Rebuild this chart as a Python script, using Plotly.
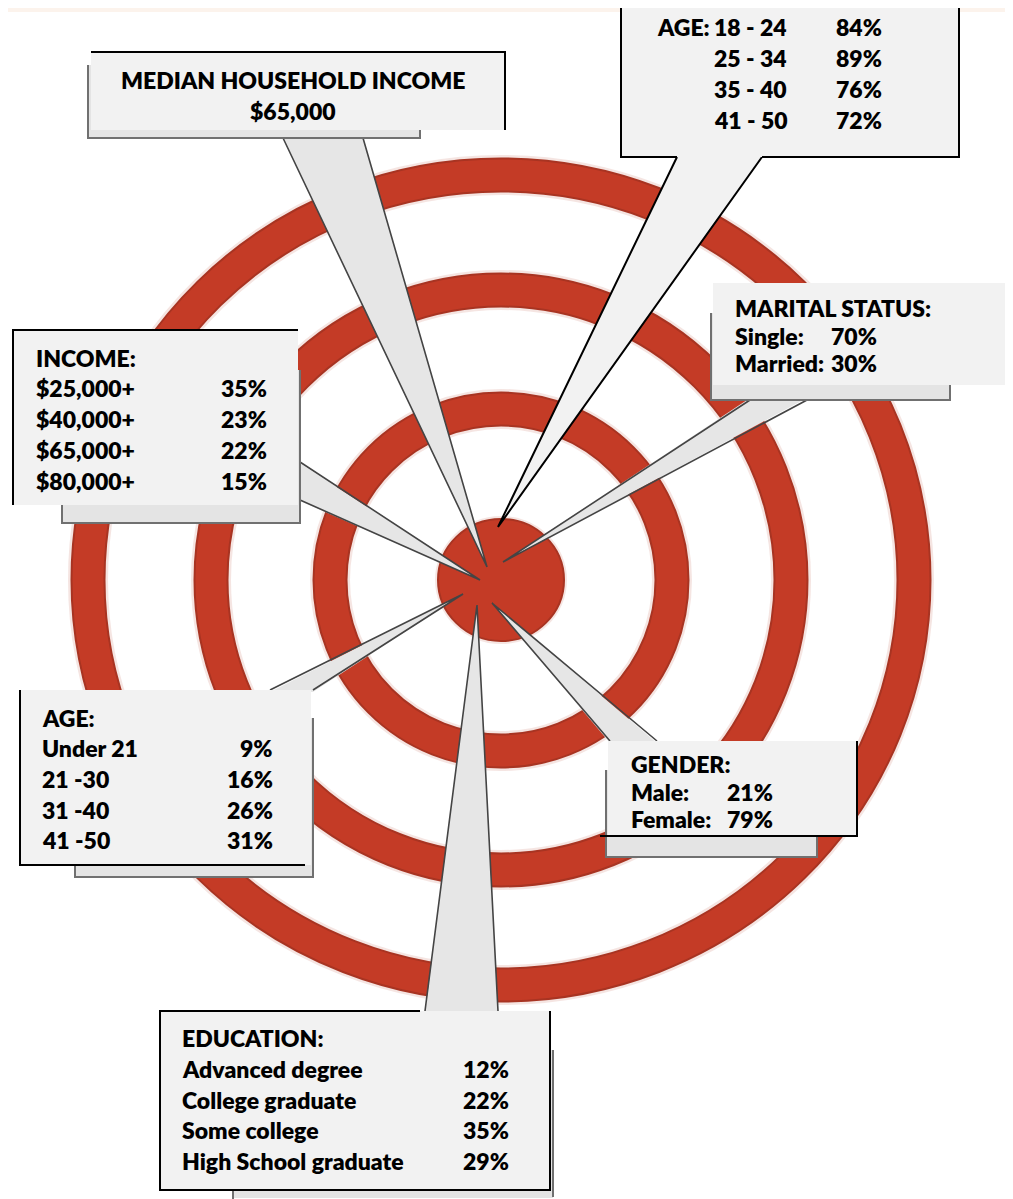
import plotly.graph_objects as go

W, H = 1013, 1199
OFF = 8  # page body margin of the browser: plot starts 8px in

# ---------------- data ----------------
median_income = 65000
age_young_labels = ["18 - 24", "25 - 34", "35 - 40", "41 - 50"]
age_young_values = [84, 89, 76, 72]
marital_labels = ["Single:", "Married:"]
marital_values = [70, 30]
income_labels = ["$25,000+", "$40,000+", "$65,000+", "$80,000+"]
income_values = [35, 23, 22, 15]
age_labels = ["Under 21", "21 -30", "31 -40", "41 -50"]
age_values = [9, 16, 26, 31]
gender_labels = ["Male:", "Female:"]
gender_values = [21, 79]
education_labels = ["Advanced degree", "College graduate", "Some college", "High School graduate"]
education_values = [12, 22, 35, 29]

# ---------------- styles ----------------
RED = "#C43B26"
RED_EDGE = "#A83422"
HALO = "rgba(215,150,140,0.25)"
FRONT = "#F2F2F2"
BACK = "#E4E4E4"
WEDGE = "#E6E6E6"
FONT = "Lato"
FS = 23
WEIGHT = 800

shapes = []


def rect(x0, y0, x1, y1, fill):
    shapes.append(dict(type="rect", x0=x0, y0=y0, x1=x1, y1=y1, fillcolor=fill,
                       line=dict(width=0), layer="above"))


def poly(pts, fill):
    d = "M " + " L ".join(f"{x},{y}" for x, y in pts) + " Z"
    shapes.append(dict(type="path", path=d, fillcolor=fill, line=dict(width=0), layer="above"))


def seg(pts, color="black", width=2):
    d = "M " + " L ".join(f"{x},{y}" for x, y in pts)
    shapes.append(dict(type="path", path=d, line=dict(color=color, width=width), layer="above"))


# faint top strip
rect(0, 0, W, 12, "#FCF3EC")

# target rings
cx, cy = 501, 580
rings = [(413, 405), (290, 290), (171, 171)]
for rx, ry in rings:
    for width, color in [(40, HALO), (35, RED_EDGE), (31, RED)]:
        shapes.append(dict(type="circle", x0=cx - rx, x1=cx + rx, y0=cy - ry, y1=cy + ry,
                           line=dict(color=color, width=width), fillcolor="rgba(0,0,0,0)",
                           layer="below"))
shapes.append(dict(type="circle", x0=cx - 66, x1=cx + 66, y0=cy - 64, y1=cy + 64,
                   line=dict(width=0), fillcolor=HALO, layer="below"))
shapes.append(dict(type="circle", x0=cx - 63, x1=cx + 63, y0=cy - 61, y1=cy + 61,
                   line=dict(color=RED_EDGE, width=2), fillcolor=RED, layer="below"))

EDGE = "#444444"
BEDGE = "#707070"

# ---- median household income ----
poly([(283, 138), (363, 138), (487, 567)], WEDGE)
seg([(283, 138), (487, 567), (363, 138)], EDGE, 1.6)
rect(88, 65, 420, 138, BACK)
seg([(88, 65), (88, 138), (420, 138), (420, 130)], BEDGE, 2)
rect(91, 52, 505, 130, FRONT)
seg([(91, 52), (505, 52), (505, 130)], "black", 2)

# ---- age (top right) ----
poly([(677, 156), (762, 156), (498, 527)], FRONT)
seg([(677, 157), (498, 527), (762, 157)], "black", 2)
rect(621, 5, 959, 157, FRONT)
seg([(621, 5), (621, 157), (677, 157)], "black", 2)
seg([(762, 157), (959, 157), (959, 5)], "black", 2)

# ---- marital status ----
poly([(750, 398), (807, 398), (503, 562)], WEDGE)
seg([(750, 400), (503, 562), (807, 400)], EDGE, 1.6)
rect(711, 313, 950, 400, BACK)
seg([(711, 313), (711, 400), (950, 400), (950, 385)], BEDGE, 2)
rect(713, 283, 1006, 385, FRONT)

# ---- income ----
poly([(298, 462), (298, 500), (480, 580)], WEDGE)
seg([(300, 462), (480, 580), (300, 500)], EDGE, 1.6)
rect(62, 370, 300, 523, BACK)
seg([(62, 505), (62, 523), (300, 523), (300, 370)], BEDGE, 2)
rect(13, 330, 298, 505, FRONT)
seg([(13, 505), (13, 330), (298, 330)], "black", 2)

# ---- age (lower left) ----
poly([(270, 692), (313, 692), (463, 594)], WEDGE)
seg([(270, 690), (463, 594), (313, 690)], EDGE, 1.6)
rect(75, 718, 313, 877, BACK)
seg([(75, 865), (75, 877), (313, 877), (313, 718)], BEDGE, 2)
rect(20, 690, 311, 865, FRONT)
seg([(20, 690), (20, 865), (305, 865)], "black", 2)

# ---- gender ----
poly([(610, 743), (657, 743), (492, 603)], WEDGE)
seg([(610, 741), (492, 603), (657, 741)], EDGE, 1.6)
rect(606, 770, 817, 857, BACK)
seg([(606, 770), (606, 857), (817, 857), (817, 836)], BEDGE, 2)
rect(608, 741, 857, 836, FRONT)
seg([(600, 836), (857, 836), (857, 741)], "black", 2)

# ---- education ----
poly([(425, 1013), (498, 1013), (477, 605)], WEDGE)
seg([(425, 1011), (477, 605), (498, 1011)], EDGE, 1.6)
rect(233, 1050, 553, 1198, BACK)
seg([(233, 1190), (233, 1199)], BEDGE, 2)
seg([(553, 1050), (553, 1197)], BEDGE, 2)
rect(160, 1011, 550, 1190, FRONT)
seg([(420, 1011), (160, 1011), (160, 1190), (550, 1190), (550, 1011)], "black", 2)

# ---------------- text ----------------
annotations = []


def txt(x, y, s, anchor="left", size=FS):
    annotations.append(dict(x=x, y=y, text=s, xref="x", yref="y", showarrow=False,
                            xanchor=anchor, yanchor="middle",
                            font=dict(family=FONT, size=size, color="black", weight=WEIGHT)))


# median income
txt(293, 80, "MEDIAN HOUSEHOLD INCOME", "center")
txt(293, 111, f"${median_income:,}", "center")

# age top right
row_y = [27, 58, 89, 120]
txt(655, row_y[0], "AGE:")
for lab, val, y in zip(age_young_labels, age_young_values, row_y):
    txt(712, y, lab)
    txt(834, y, f"{val}%")

# marital
txt(733, 308, "MARITAL STATUS:")
for lab, val, y in zip(marital_labels, marital_values, [336, 363]):
    txt(733, y, lab)
    txt(829, y, f"{val}%")

# income
txt(34, 358, "INCOME:")
for lab, val, y in zip(income_labels, income_values, [388, 419, 450, 481]):
    txt(34, y, lab)
    txt(269, y, f"{val}%", "right")

# age lower left
txt(40, 718, "AGE:")
for lab, val, y in zip(age_labels, age_values, [748, 779, 810, 840]):
    txt(40, y, lab)
    txt(275, y, f"{val}%", "right")

# gender
txt(629, 764, "GENDER:")
for lab, val, y in zip(gender_labels, gender_values, [792, 819]):
    txt(629, y, lab)
    txt(725, y, f"{val}%")

# education
txt(180, 1038, "EDUCATION:")
for lab, val, y in zip(education_labels, education_values, [1069, 1100, 1130, 1161]):
    txt(180, y, lab)
    txt(511, y, f"{val}%", "right")

fig = go.Figure()
fig.add_trace(go.Scatter(x=[OFF, W], y=[OFF, H], mode="markers", marker=dict(opacity=0),
                         hoverinfo="skip", showlegend=False))
fig.update_layout(
    width=W - OFF, height=H - OFF,
    margin=dict(l=0, r=0, t=0, b=0),
    paper_bgcolor="white", plot_bgcolor="white",
    xaxis=dict(range=[OFF, W], visible=False, fixedrange=True),
    yaxis=dict(range=[H, OFF], visible=False, fixedrange=True),
    shapes=shapes, annotations=annotations,
    showlegend=False,
)
fig.write_html("out.html", config={"displayModeBar": False})
